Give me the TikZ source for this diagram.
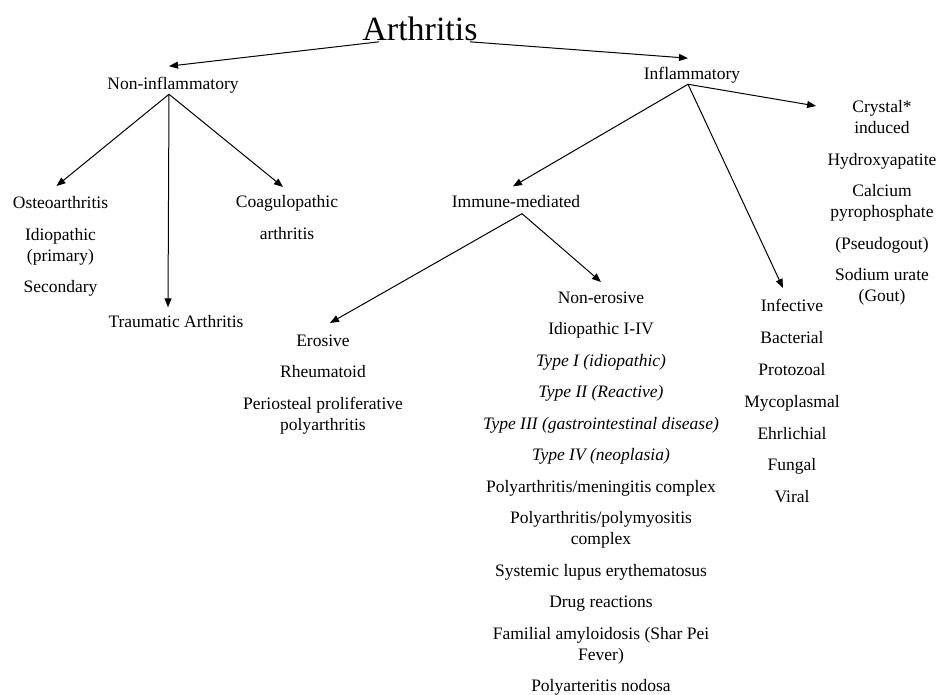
\documentclass[tikz,border=0pt]{standalone}
\usepackage{fontspec}
\setmainfont{Liberation Serif}[Ligatures=TeX]
\usetikzlibrary{arrows.meta}
\tikzstyle{item}=[inner sep=0pt,font=\fontsize{17.5}{21}\selectfont]
\tikzstyle{itemlist}=[item,align=center,anchor=north]

\begin{document}
\begin{tikzpicture}[x=1pt,y=1pt,->,>={Triangle[length=9pt,width=7pt]},line width=1pt]
    \useasboundingbox (0,0) rectangle (938,-695);
    \node[inner sep=0pt,anchor=base,font=\fontsize{34}{40}\selectfont] (AR) at (420,-41) {Arthritis};

    \node[item,anchor=base] (NI) at (173,-90) {Non-inflammatory};
    \node[item,anchor=base] (IF) at (692,-80) {Inflammatory};

    \node[itemlist] (OA) at (60.5,-196) {Osteoarthritis\\[10.5pt] Idiopathic\\(primary)\\[10.5pt] Secondary};
    \node[item,anchor=base] (TA) at (176,-328) {Traumatic Arthritis};
    \node[itemlist] (CA) at (287,-195) {Coagulopathic\\[10.5pt] arthritis};

    \node[item,anchor=base] (IM) at (516,-208) {Immune-mediated};
    \node[itemlist] (ER) at (323,-334) {Erosive\\[10.5pt] Rheumatoid\\[10.5pt] Periosteal proliferative\\polyarthritis};
    \node[itemlist] (NE) at (601,-291) {Non-erosive\\[10.5pt] Idiopathic I-IV\\[10.5pt]
        \textit{Type I (idiopathic)}\\[10.5pt] \textit{Type II (Reactive)}\\[10.5pt]
        \textit{Type III (gastrointestinal disease)}\\[10.5pt] \textit{Type IV (neoplasia)}\\[10.5pt]
        Polyarthritis/meningitis complex\\[10.5pt] Polyarthritis/polymyositis\\complex\\[10.5pt]
        Systemic lupus erythematosus\\[10.5pt] Drug reactions\\[10.5pt]
        Familial amyloidosis (Shar Pei\\Fever)\\[10.5pt] Polyarteritis nodosa};
    \node[itemlist] (INF) at (792,-299) {Infective\\[10.8pt] Bacterial\\[10.8pt] Protozoal\\[10.8pt]
        Mycoplasmal\\[10.8pt] Ehrlichial\\[10.8pt] Fungal\\[10.8pt] Viral};
    \node[itemlist] (CR) at (882,-100) {Crystal*\\induced\\[10.5pt] Hydroxyapatite\\[10.5pt]
        Calcium\\pyrophosphate\\[10.5pt] (Pseudogout)\\[10.5pt] Sodium urate\\(Gout)};

    \draw ([xshift=17pt]AR.south west) -- ([xshift=-4pt,yshift=11pt]NI.north);
    \draw ([xshift=-8pt]AR.south east) -- ([xshift=-4pt,yshift=9pt]IF.north);

    \draw ([xshift=-4pt]NI.south) -- ([xshift=-4pt,yshift=10pt]OA.north);
    \draw ([xshift=-4pt]NI.south) -- ([xshift=-8pt,yshift=8pt]TA.north);
    \draw ([xshift=-4pt]NI.south) -- ([xshift=-4pt,yshift=8pt]CA.north);

    \draw ([xshift=-4pt]IF.south) -- ([xshift=-3pt,yshift=9pt]IM.north);
    \draw ([xshift=-4pt]IF.south) -- ([xshift=-9pt,yshift=11pt]INF.north);
    \draw ([xshift=-4pt]IF.south) -- ([xshift=-11pt,yshift=-6pt]CR.north west);

    \draw ([xshift=6pt,yshift=-5pt]IM.south) -- ([xshift=7pt,yshift=11pt]ER.north);
    \draw ([xshift=6pt,yshift=-5pt]IM.south) -- ([yshift=9pt]NE.north);
\end{tikzpicture}
\end{document}
